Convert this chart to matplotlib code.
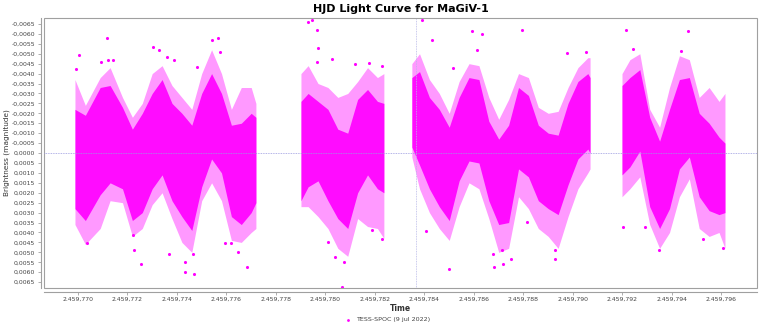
import numpy as np
import matplotlib.pyplot as plt
from matplotlib.patches import Rectangle
from matplotlib.ticker import FuncFormatter, MultipleLocator

# envelope of the light curve, per time bin
# seg: observing block, t: HJD, env_*: outer (sparse) edge, core_*: dense band
seg = [1] * 19 + [2] * 10 + [3] * 20 + [4] * 12
t = [2459769.88, 2459770.30, 2459770.90, 2459771.30, 2459771.80, 2459772.20, 2459772.60,
     2459773.00, 2459773.40, 2459773.80, 2459774.20, 2459774.60, 2459775.00, 2459775.40,
     2459775.80, 2459776.20, 2459776.60, 2459777.00, 2459777.19,
     2459779.01, 2459779.30, 2459779.70, 2459780.10, 2459780.50, 2459780.90, 2459781.30,
     2459781.70, 2459782.10, 2459782.36,
     2459783.49, 2459783.80, 2459784.20, 2459784.60, 2459785.00, 2459785.40, 2459785.80,
     2459786.20, 2459786.60, 2459787.00, 2459787.40, 2459787.80, 2459788.20, 2459788.60,
     2459789.00, 2459789.40, 2459789.80, 2459790.20, 2459790.60, 2459790.69,
     2459791.98, 2459792.30, 2459792.70, 2459793.10, 2459793.50, 2459793.90, 2459794.30,
     2459794.70, 2459795.10, 2459795.50, 2459795.90, 2459796.14]
env_top = [-0.0037, -0.0024, -0.0038, -0.0043, -0.0028, -0.0018, -0.0025, -0.0040, -0.0044, -0.0034,
           -0.0028, -0.0022, -0.0040, -0.0052, -0.0040, -0.0022, -0.0033, -0.0033, -0.0025,
           -0.0040, -0.0044, -0.0035, -0.0033, -0.0028, -0.0030, -0.0036, -0.0043, -0.0038, -0.0040,
           -0.0045, -0.0050, -0.0037, -0.0030, -0.0020, -0.0036, -0.0045, -0.0044, -0.0028, -0.0017,
           -0.0027, -0.0040, -0.0038, -0.0023, -0.0020, -0.0021, -0.0033, -0.0043, -0.0048, -0.0048,
           -0.0040, -0.0047, -0.0050, -0.0022, -0.0013, -0.0033, -0.0049, -0.0047, -0.0028, -0.0033,
           -0.0026, -0.0030]
core_top = [-0.0022, -0.0019, -0.0033, -0.0034, -0.0023, -0.0012, -0.0020, -0.0030, -0.0037, -0.0025,
            -0.0020, -0.0014, -0.0030, -0.0040, -0.0030, -0.0014, -0.0015, -0.0020, -0.0018,
            -0.0026, -0.0030, -0.0026, -0.0022, -0.0012, -0.0010, -0.0027, -0.0032, -0.0026, -0.0025,
            -0.0038, -0.0041, -0.0028, -0.0022, -0.0013, -0.0028, -0.0038, -0.0037, -0.0016, -0.0007,
            -0.0014, -0.0033, -0.0029, -0.0014, -0.0010, -0.0009, -0.0025, -0.0036, -0.0040, -0.0038,
            -0.0034, -0.0038, -0.0042, -0.0018, -0.0006, -0.0022, -0.0037, -0.0038, -0.0020, -0.0015,
            -0.0008, -0.0005]
core_bot = [0.0028, 0.0034, 0.0021, 0.0015, 0.0018, 0.0034, 0.0030, 0.0018, 0.0011, 0.0024,
            0.0032, 0.0039, 0.0017, 0.0003, 0.0010, 0.0032, 0.0036, 0.0030, 0.0025,
            0.0024, 0.0017, 0.0014, 0.0024, 0.0033, 0.0038, 0.0020, 0.0011, 0.0018, 0.0020,
            -0.0003, 0.0006, 0.0018, 0.0027, 0.0034, 0.0014, 0.0004, 0.0005, 0.0024, 0.0036,
            0.0035, 0.0008, 0.0012, 0.0024, 0.0028, 0.0031, 0.0016, 0.0003, -0.0002, 0.0000,
            0.0011, 0.0007, -0.0001, 0.0027, 0.0038, 0.0028, 0.0008, 0.0002, 0.0022, 0.0029,
            0.0031, 0.0030]
env_bot = [0.0036, 0.0046, 0.0038, 0.0024, 0.0025, 0.0042, 0.0038, 0.0026, 0.0020, 0.0033,
           0.0045, 0.0050, 0.0024, 0.0015, 0.0024, 0.0044, 0.0045, 0.0040, 0.0038,
           0.0027, 0.0027, 0.0032, 0.0038, 0.0048, 0.0052, 0.0033, 0.0037, 0.0038, 0.0043,
           0.0002, 0.0018, 0.0030, 0.0038, 0.0044, 0.0027, 0.0015, 0.0018, 0.0033, 0.0050,
           0.0048, 0.0022, 0.0028, 0.0038, 0.0042, 0.0048, 0.0032, 0.0018, 0.0010, 0.0008,
           0.0022, 0.0018, 0.0012, 0.0036, 0.0048, 0.0040, 0.0022, 0.0013, 0.0038, 0.0042,
           0.0040, 0.0048]

# isolated points outside the envelope
out_t = [2459770.05, 2459771.16, 2459769.92, 2459770.92, 2459771.23, 2459771.40, 2459773.02,
         2459773.29, 2459773.58, 2459772.28, 2459772.53, 2459773.68, 2459770.35, 2459772.24,
         2459774.32, 2459774.32, 2459774.70, 2459774.66, 2459775.40, 2459775.67, 2459775.74,
         2459775.94, 2459776.17, 2459776.45, 2459776.81, 2459774.79, 2459773.89,
         2459779.31, 2459779.44, 2459779.64, 2459779.68, 2459779.64, 2459780.28, 2459781.19,
         2459781.76, 2459782.30, 2459780.68, 2459780.38, 2459780.75, 2459780.11, 2459781.86,
         2459782.30,
         2459783.91, 2459784.32, 2459785.91, 2459786.31, 2459786.11, 2459784.05, 2459784.99,
         2459786.78, 2459786.82, 2459785.16,
         2459787.93, 2459787.12, 2459787.16, 2459787.48, 2459789.27, 2459789.27, 2459789.74,
         2459790.53, 2459788.13,
         2459792.14, 2459794.63, 2459792.44, 2459794.35, 2459792.01, 2459793.49, 2459795.27,
         2459796.05, 2459792.91]
out_mag = [-0.00494, -0.00578, -0.00422, -0.00460, -0.00469, -0.00469, -0.00533,
           -0.00519, -0.00486, 0.00489, 0.00561, 0.00506, 0.00455, 0.00413,
           0.00548, 0.00598, 0.00607, 0.00506, -0.00570, -0.00578, -0.00511,
           0.00455, 0.00455, 0.00497, 0.00573, -0.00432, -0.00469,
           -0.00662, -0.00671, -0.00620, -0.00528, -0.00460, -0.00472, -0.00447,
           -0.00452, -0.00440, 0.00674, 0.00523, 0.00548, 0.00447, 0.00388,
           0.00434,
           -0.00671, -0.00570, -0.00612, -0.00600, -0.00519, 0.00393, 0.00582,
           0.00506, 0.00573, -0.00427,
           -0.00620, 0.00489, 0.00561, 0.00534, 0.00489, 0.00534, -0.00503,
           -0.00511, 0.00346,
           -0.00620, -0.00612, -0.00523, -0.00514, 0.00373, 0.00486, 0.00434,
           0.00477, 0.00371]

cross_t = 2459783.66
magenta = '#ff00ff'
grey = '#a0a0a0'

plt.rcParams['font.family'] = ['DejaVu Sans']

fig = plt.figure(figsize=(7.63, 3.27), dpi=100)
ax = fig.add_axes([0.0577, 0.119, 0.9343, 0.826])

seg = np.array(seg)
t = np.array(t)
env_top, core_top = np.array(env_top), np.array(core_top)
core_bot, env_bot = np.array(core_bot), np.array(env_bot)
for s in np.unique(seg):
    m = seg == s
    # sparse outer band, then the dense core
    ax.fill_between(t[m], env_top[m], env_bot[m], color=magenta, alpha=0.4, lw=0)
    ax.fill_between(t[m], core_top[m], core_bot[m], color=magenta, alpha=0.92, lw=0)

ax.scatter(out_t, out_mag, s=5, color=magenta, lw=0, label='TESS-SPOC (9 jul 2022)')

# crosshair
ax.axhline(0, color='#9a9ae0', lw=0.6, ls=(0, (1, 1)))
ax.axvline(cross_t, color='#b8b8e8', lw=0.6, ls=(0, (1, 1)))

ax.set_xlim(2459768.63, 2459797.43)
ax.set_ylim(0.0068, -0.0068)

ax.xaxis.set_major_locator(MultipleLocator(2))
ax.yaxis.set_major_locator(MultipleLocator(0.0005))
ax.xaxis.set_major_formatter(FuncFormatter(
    lambda v, p: f"{v / 1000:,.3f}".replace(',', '#').replace('.', ',').replace('#', '.')))
ax.yaxis.set_major_formatter(FuncFormatter(
    lambda v, p: f"{0 if abs(v) < 1e-9 else v:.4f}".replace('.', ',')))

ax.tick_params(labelsize=4.4, colors=grey, labelcolor='#444444', length=2, width=0.6, pad=2)

for side in ['top', 'right']:
    ax.spines[side].set_visible(False)
for side in ['left', 'bottom']:
    ax.spines[side].set_position(('outward', 2.5))
    ax.spines[side].set_color(grey)
    ax.spines[side].set_linewidth(0.8)
ax.add_patch(Rectangle((0, 0), 1, 1, transform=ax.transAxes, fill=False,
                       ec=grey, lw=0.8, clip_on=False))

ax.set_title('HJD Light Curve for MaGiV-1', fontsize=8, fontweight='bold', pad=4)
ax.set_xlabel('Time', fontsize=5.5, fontweight='bold', color='#333333', labelpad=1)
ax.set_ylabel('Brightness (magnitude)', fontsize=5.3, color='#333333', labelpad=1)

ax.legend(loc='upper center', bbox_to_anchor=(0.48, -0.085), frameon=False,
          fontsize=4.6, markerscale=0.9, handletextpad=0.3, labelcolor='#444444')

fig.savefig('out.png', dpi=100)
